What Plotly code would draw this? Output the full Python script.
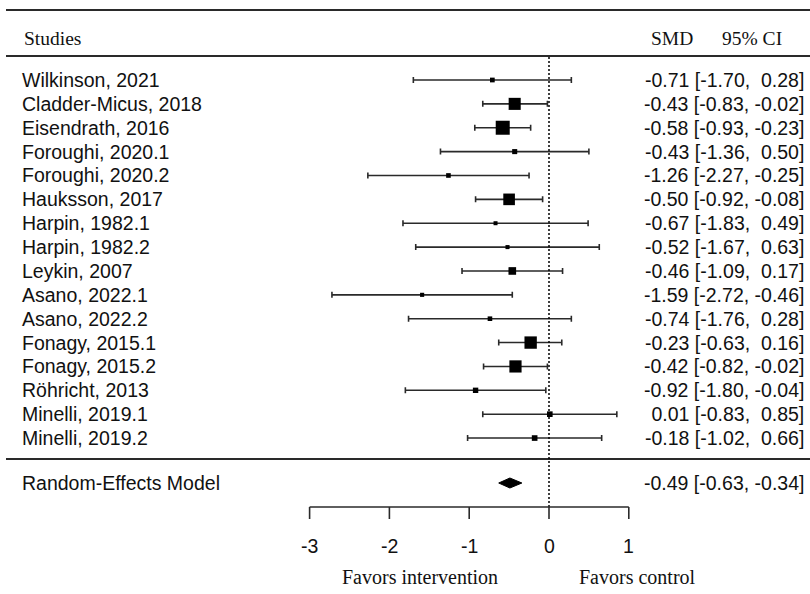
import plotly.graph_objects as go

# ---------------- data ----------------
studies = ["Wilkinson, 2021", "Cladder-Micus, 2018", "Eisendrath, 2016", "Foroughi, 2020.1",
           "Foroughi, 2020.2", "Hauksson, 2017", "Harpin, 1982.1", "Harpin, 1982.2",
           "Leykin, 2007", "Asano, 2022.1", "Asano, 2022.2", "Fonagy, 2015.1",
           "Fonagy, 2015.2", "Röhricht, 2013", "Minelli, 2019.1", "Minelli, 2019.2"]
smd = [-0.71, -0.43, -0.58, -0.43, -1.26, -0.50, -0.67, -0.52,
       -0.46, -1.59, -0.74, -0.23, -0.42, -0.92, 0.01, -0.18]
ci_low = [-1.70, -0.83, -0.93, -1.36, -2.27, -0.92, -1.83, -1.67,
          -1.09, -2.72, -1.76, -0.63, -0.82, -1.80, -0.83, -1.02]
ci_high = [0.28, -0.02, -0.23, 0.50, -0.25, -0.08, 0.49, 0.63,
           0.17, -0.46, 0.28, 0.16, -0.02, -0.04, 0.85, 0.66]
re_label = "Random-Effects Model"
re_est, re_low, re_high = -0.49, -0.63, -0.34
axis_ticks = [-3, -2, -1, 0, 1]
header_left = "Studies"
header_smd = "SMD"
header_ci = "95% CI"
favors_left = "Favors intervention"
favors_right = "Favors control"

# ---------------- layout helpers ----------------
W, H = 810, 594
X0PX, XSCALE = 549.0, 79.8          # pixel of 0 and pixels per SMD unit
ROW0, ROWSTEP = 80.0, 23.87          # pixel y of first study row and row spacing
row_y = [ROW0 + ROWSTEP * i for i in range(len(studies))]
Y_SEP1, Y_TOP, Y_HDR = 56, 10, 38
Y_SEP2, Y_RE = 459, 483
Y_AXIS, Y_TICK, Y_TLAB, Y_FAV = 507, 519, 546, 577

SANS = "Liberation Sans, Arial, sans-serif"
SERIF = "Liberation Serif, Times New Roman, serif"
FS = 19.5
LINEC = "#2a2a2a"
TXT = "#111111"


def px2x(p):
    return (p - X0PX) / XSCALE


def fmt(v):
    return f"{v:5.2f}".replace(" ", "\u00a0")


# marker size from precision (1 / CI width)
prec = [1.0 / (h - l) for l, h in zip(ci_low, ci_high)]
pmin, pmax = min(prec), max(prec)
sizes = [4 + (p - pmin) / (pmax - pmin) * 10 for p in prec]

fig = go.Figure()

# confidence intervals
fig.add_trace(go.Scatter(
    x=smd, y=row_y, mode="markers",
    marker=dict(size=1, color="rgba(0,0,0,0)"),
    error_x=dict(type="data", symmetric=False,
                 array=[h - e for e, h in zip(smd, ci_high)],
                 arrayminus=[e - l for e, l in zip(smd, ci_low)],
                 color=LINEC, thickness=1.6, width=3),
    hoverinfo="skip"))
# point estimates
fig.add_trace(go.Scatter(
    x=smd, y=row_y, mode="markers",
    marker=dict(symbol="square", size=sizes, color="black", opacity=1, line=dict(width=0)),
    hoverinfo="skip"))

# summary diamond
fig.add_trace(go.Scatter(
    x=[re_low, re_est, re_high, re_est, re_low],
    y=[Y_RE, Y_RE - 5, Y_RE, Y_RE + 5, Y_RE],
    mode="lines", fill="toself", fillcolor="black",
    line=dict(color="black", width=1), hoverinfo="skip"))

shapes = []
xl, xr = px2x(6), px2x(W)
for yy in (Y_TOP, Y_SEP1, Y_SEP2):
    shapes.append(dict(type="line", x0=xl, x1=xr, y0=yy, y1=yy,
                       line=dict(color=LINEC, width=2)))
# reference line at zero
shapes.append(dict(type="line", x0=0, x1=0, y0=Y_SEP1 + 1, y1=Y_AXIS,
                   line=dict(color="black", width=1.5, dash="2px,2px")))
# axis
shapes.append(dict(type="line", x0=axis_ticks[0], x1=axis_ticks[-1], y0=Y_AXIS, y1=Y_AXIS,
                   line=dict(color=LINEC, width=1.6)))
for t in axis_ticks:
    shapes.append(dict(type="line", x0=t, x1=t, y0=Y_AXIS, y1=Y_TICK,
                       line=dict(color=LINEC, width=1.6)))

ann = []
for name, yy, e, l, h in zip(studies, row_y, smd, ci_low, ci_high):
    ann.append(dict(x=20 / W, xref="paper", y=yy, yref="y", text=name, showarrow=False,
                    xanchor="left", yanchor="middle", font=dict(family=SANS, size=FS, color=TXT)))
    ann.append(dict(x=806 / W, xref="paper", y=yy, yref="y",
                    text=f"{fmt(e)} [{fmt(l)}, {fmt(h)}]", showarrow=False,
                    xanchor="right", yanchor="middle", font=dict(family=SANS, size=FS, color=TXT)))
ann.append(dict(x=20 / W, xref="paper", y=Y_RE, yref="y", text=re_label, showarrow=False,
                xanchor="left", yanchor="middle", font=dict(family=SANS, size=FS, color=TXT)))
ann.append(dict(x=806 / W, xref="paper", y=Y_RE, yref="y",
                text=f"{fmt(re_est)} [{fmt(re_low)}, {fmt(re_high)}]", showarrow=False,
                xanchor="right", yanchor="middle", font=dict(family=SANS, size=FS, color=TXT)))
ann.append(dict(x=22 / W, xref="paper", y=Y_HDR, yref="y", text=header_left, showarrow=False,
                xanchor="left", yanchor="middle", font=dict(family=SERIF, size=FS, color=TXT)))
ann.append(dict(x=672 / W, xref="paper", y=Y_HDR, yref="y", text=header_smd, showarrow=False,
                xanchor="center", yanchor="middle", font=dict(family=SERIF, size=FS, color=TXT)))
ann.append(dict(x=752 / W, xref="paper", y=Y_HDR, yref="y", text=header_ci, showarrow=False,
                xanchor="center", yanchor="middle", font=dict(family=SERIF, size=FS, color=TXT)))
for t in axis_ticks:
    ann.append(dict(x=t, xref="x", y=Y_TLAB, yref="y", text=str(t), showarrow=False,
                    xanchor="center", yanchor="middle", font=dict(family=SANS, size=FS, color=TXT)))
ann.append(dict(x=px2x(420), xref="x", y=Y_FAV, yref="y", text=favors_left, showarrow=False,
                xanchor="center", yanchor="middle", font=dict(family=SERIF, size=20, color=TXT)))
ann.append(dict(x=px2x(637), xref="x", y=Y_FAV, yref="y", text=favors_right, showarrow=False,
                xanchor="center", yanchor="middle", font=dict(family=SERIF, size=20, color=TXT)))

fig.update_layout(
    width=W, height=H, margin=dict(l=0, r=0, t=0, b=0),
    paper_bgcolor="white", plot_bgcolor="white", showlegend=False,
    xaxis=dict(range=[px2x(0), px2x(W)], visible=False, fixedrange=True),
    yaxis=dict(range=[H, 0], visible=False, fixedrange=True),
    shapes=shapes, annotations=ann)

fig.write_html("out.html")
